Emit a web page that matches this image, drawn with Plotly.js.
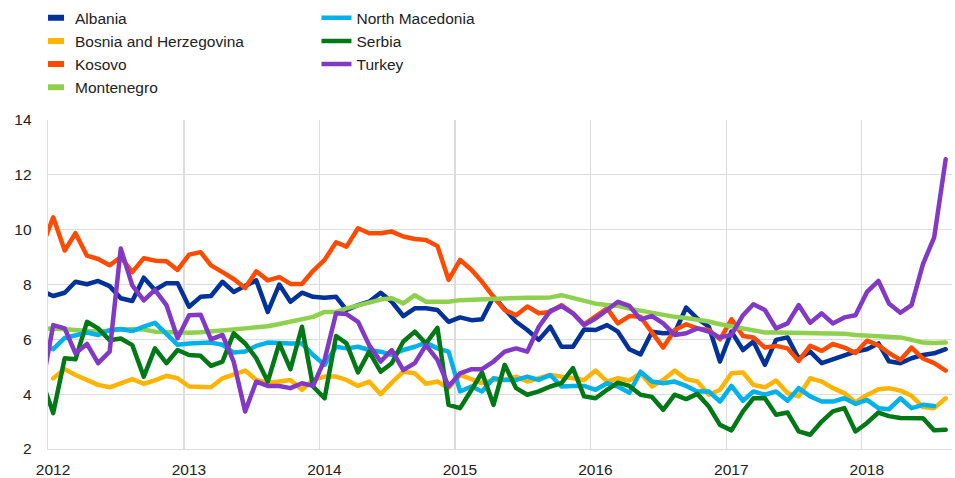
<!DOCTYPE html>
<html>
<head>
<meta charset="utf-8">
<script src="https://cdn.plot.ly/plotly-3.0.1.min.js"></script>
<style>
html,body{margin:0;padding:0;background:#fff;}
#chart{width:955px;height:478px;}
.scatterlayer .js-line{stroke-linejoin:round;stroke-linecap:round;}
</style>
</head>
<body>
<div id="chart"></div>
<script>
// Monthly observations, mid-month, Dec 2011 .. Aug 2018 (first value is Dec 2011)
const startYear = 2011, startMonth = 12, nPoints = 81;

const seriesNames = ["Albania","Bosnia and Herzegovina","Kosovo","Montenegro","North Macedonia","Serbia","Turkey"];
const seriesColors = ["#003299","#FFB400","#FF4B00","#8fd14f","#00B1EA","#007816","#8139C6"];

const albania = [7.76,
 7.58,7.7,8.1,8.01,8.13,7.94,7.5,7.4,8.25,7.8,8.05,8.05,
 7.19,7.55,7.58,8.1,7.73,7.95,8.15,7.0,8.0,7.37,7.7,7.55,
 7.52,7.55,7.07,7.25,7.37,7.7,7.37,6.85,7.13,7.13,7.07,6.64,
 6.8,6.7,6.73,7.55,7.13,6.64,6.34,5.98,6.46,5.73,5.73,6.36,
 6.34,6.52,6.28,5.64,5.45,6.28,6.22,6.24,7.16,6.76,6.46,5.19,
 6.28,5.61,5.92,5.07,5.98,6.07,5.3,5.55,5.13,5.27,5.43,5.55,
 5.64,5.85,5.2,5.13,5.31,5.43,5.49,5.64];
const bosnia = [null,
 4.58,4.91,4.7,4.52,4.34,4.25,4.4,4.55,4.38,4.5,4.67,4.58,
 4.28,4.25,4.25,4.58,4.7,4.86,4.52,4.42,4.46,4.52,4.16,4.52,
 4.64,4.64,4.52,4.3,4.46,4.0,4.42,4.82,4.76,4.38,4.46,4.22,
 4.7,4.52,4.4,4.52,4.52,4.64,4.46,4.58,4.7,4.64,4.58,4.52,
 4.86,4.46,4.58,4.5,4.76,4.28,4.52,4.86,4.55,4.46,3.98,4.16,
 4.76,4.79,4.34,4.25,4.5,4.04,3.92,4.58,4.46,4.22,4.04,3.7,
 3.97,4.18,4.22,4.13,3.94,3.53,3.49,3.85];
const kosovo = [9.35,
 10.45,9.24,9.87,9.05,8.93,8.7,9.0,8.45,8.96,8.87,8.85,8.53,
 9.09,9.18,8.7,8.45,8.2,7.87,8.48,8.15,8.27,8.02,8.02,8.5,
 8.9,9.54,9.38,10.05,9.87,9.87,9.93,9.75,9.66,9.62,9.4,8.17,
 8.9,8.53,8.1,7.55,7.07,6.88,7.2,6.95,7.0,7.25,6.95,6.55,
 6.82,7.13,6.58,6.85,6.82,6.28,5.7,6.34,6.55,6.4,6.34,6.0,
 6.73,6.12,6.07,5.7,5.76,5.67,5.21,5.76,5.58,5.83,5.7,5.5,
 5.95,5.78,5.5,5.25,5.7,5.3,5.13,4.86];
const montenegro = [6.4,
 6.4,6.37,6.34,6.3,6.28,6.31,6.36,6.37,6.36,6.28,6.26,6.25,
 6.24,6.26,6.28,6.32,6.36,6.4,6.42,6.48,6.56,6.64,6.73,6.82,
 7.0,7.0,7.13,7.25,7.37,7.45,7.5,7.31,7.61,7.37,7.37,7.37,
 7.43,7.45,7.47,7.5,7.5,7.51,7.52,7.52,7.53,7.61,7.5,7.4,
 7.3,7.25,7.22,7.12,7.05,6.95,6.88,6.82,6.78,6.73,6.65,6.55,
 6.48,6.4,6.32,6.25,6.25,6.24,6.24,6.24,6.23,6.22,6.2,6.16,
 6.14,6.12,6.1,6.07,5.98,5.88,5.87,5.88];
const northMacedonia = [5.82,
 5.64,6.05,6.16,6.25,6.16,6.34,6.38,6.3,6.46,6.6,6.2,5.8,
 5.85,5.88,5.88,5.8,5.52,5.56,5.76,5.88,5.85,5.85,5.85,5.43,
 5.07,5.73,5.67,5.73,5.61,5.55,5.43,5.61,5.73,5.88,5.67,5.55,
 4.1,4.28,4.1,4.58,4.52,4.52,4.64,4.52,4.7,4.28,4.3,4.3,
 4.16,4.4,4.28,4.05,4.82,4.46,4.4,4.46,4.3,4.1,4.1,3.73,
 4.3,3.76,4.1,3.98,4.1,3.76,4.22,3.92,3.73,3.73,3.85,3.65,
 3.79,3.49,3.45,3.85,3.49,3.61,3.57,null];
const serbia = [4.51,
 3.31,5.31,5.27,6.64,6.4,5.97,6.03,5.79,4.64,5.67,5.13,5.61,
 5.43,5.4,5.03,5.19,6.22,5.85,5.31,4.46,5.85,4.91,6.46,4.28,
 3.85,6.12,5.85,4.79,5.55,4.82,5.13,5.92,6.28,5.85,6.42,3.61,
 3.49,4.16,4.79,3.61,5.07,4.22,3.98,4.1,4.28,4.4,4.95,3.92,
 3.85,4.16,4.42,4.3,3.98,3.9,3.43,3.98,3.82,4.01,3.55,2.88,
 2.68,3.37,3.85,3.85,3.25,3.33,2.64,2.52,3.0,3.37,3.49,2.64,
 2.95,3.33,3.2,3.13,3.13,3.12,2.68,2.7];
const turkey = [4.22,
 6.52,6.4,5.49,5.83,5.13,5.55,9.31,7.97,7.42,7.8,7.25,6.04,
 6.88,6.9,6.0,6.16,5.19,3.37,4.46,4.3,4.3,4.22,4.4,4.3,
 5.25,6.95,6.92,6.64,5.79,5.19,5.61,4.88,5.13,5.79,5.25,4.28,
 4.76,4.91,4.91,5.19,5.55,5.67,5.55,6.46,7.04,7.21,6.95,6.52,
 6.76,7.07,7.37,7.22,6.73,6.85,6.58,6.16,6.22,6.4,6.28,6.07,
 6.16,6.88,7.28,7.07,6.4,6.58,7.25,6.6,6.95,6.58,6.8,6.88,
 7.73,8.13,7.31,6.97,7.25,8.75,9.72,12.57];

const yTicks = [2,4,6,8,10,12,14];
const xTickYears = ["2012","2013","2014","2015","2016","2017","2018"];

const seriesValues = [albania,bosnia,kosovo,montenegro,northMacedonia,serbia,turkey];

const months = [];
for (let k = 0; k < nPoints; k++) {
  const m0 = (startMonth - 1) + k;
  const y = startYear + Math.floor(m0 / 12);
  const m = (m0 % 12) + 1;
  months.push(y + "-" + String(m).padStart(2, "0") + "-15");
}

const FONT = 'Arial, "Liberation Sans", sans-serif';
const legendOf = [ "legend","legend","legend","legend","legend2","legend2","legend2" ];

const traces = seriesNames.map((name, i) => ({
  type: "scatter",
  mode: "lines",
  name: name,
  x: months,
  y: seriesValues[i],
  line: {color: seriesColors[i], width: 4.5},
  legend: legendOf[i],
  connectgaps: false,
  hoverinfo: "skip"
}));

const legendCommon = {
  orientation: "v",
  bgcolor: "rgba(0,0,0,0)",
  borderwidth: 0,
  font: {family: FONT, size: 15.5, color: "#222"},
  xanchor: "left",
  yanchor: "top",
  tracegroupgap: 0,
  itemclick: false
};

const layout = {
  width: 955,
  height: 478,
  margin: {l: 48, r: 3, t: 119, b: 29},
  paper_bgcolor: "#fff",
  plot_bgcolor: "#fff",
  font: {family: FONT, size: 15.5, color: "#222"},
  showlegend: true,
  legend: Object.assign({}, legendCommon, {x: -0.0055, y: 1.357}),
  legend2: Object.assign({}, legendCommon, {x: 0.297, y: 1.357}),
  xaxis: {
    type: "date",
    range: ["2012-01-01", "2018-09-01"],
    tickvals: xTickYears.map(y => y + "-01-01"),
    ticktext: xTickYears,
    showgrid: true,
    gridcolor: "#dcdcdc",
    gridwidth: 1.3,
    showline: true,
    linecolor: "#dcdcdc",
    linewidth: 1.3,
    zeroline: false,
    ticks: "",
    ticklabelshift: 5,
    ticklabelstandoff: 6,
    tickfont: {family: FONT, size: 15.5, color: "#222"},
    fixedrange: true
  },
  yaxis: {
    range: [2, 14],
    tickvals: yTicks,
    ticktext: yTicks.map(String),
    showgrid: true,
    gridcolor: "#dcdcdc",
    gridwidth: 1.3,
    showline: true,
    linecolor: "#dcdcdc",
    linewidth: 1.3,
    zeroline: false,
    ticks: "",
    ticklabelstandoff: 12,
    tickfont: {family: FONT, size: 15.5, color: "#222"},
    fixedrange: true
  }
};

Plotly.newPlot("chart", traces, layout, {displayModeBar: false, staticPlot: true}).then(() => {
  document.querySelectorAll(".legend .legendlines path").forEach(p => {
    p.setAttribute("d", "M5,0h16");
    p.style.strokeWidth = "6px";
    p.style.strokeLinecap = "butt";
  });
  document.querySelectorAll(".legend text.legendtext").forEach(t => {
    t.setAttribute("x", "32");
  });
});
</script>
</body>
</html>
